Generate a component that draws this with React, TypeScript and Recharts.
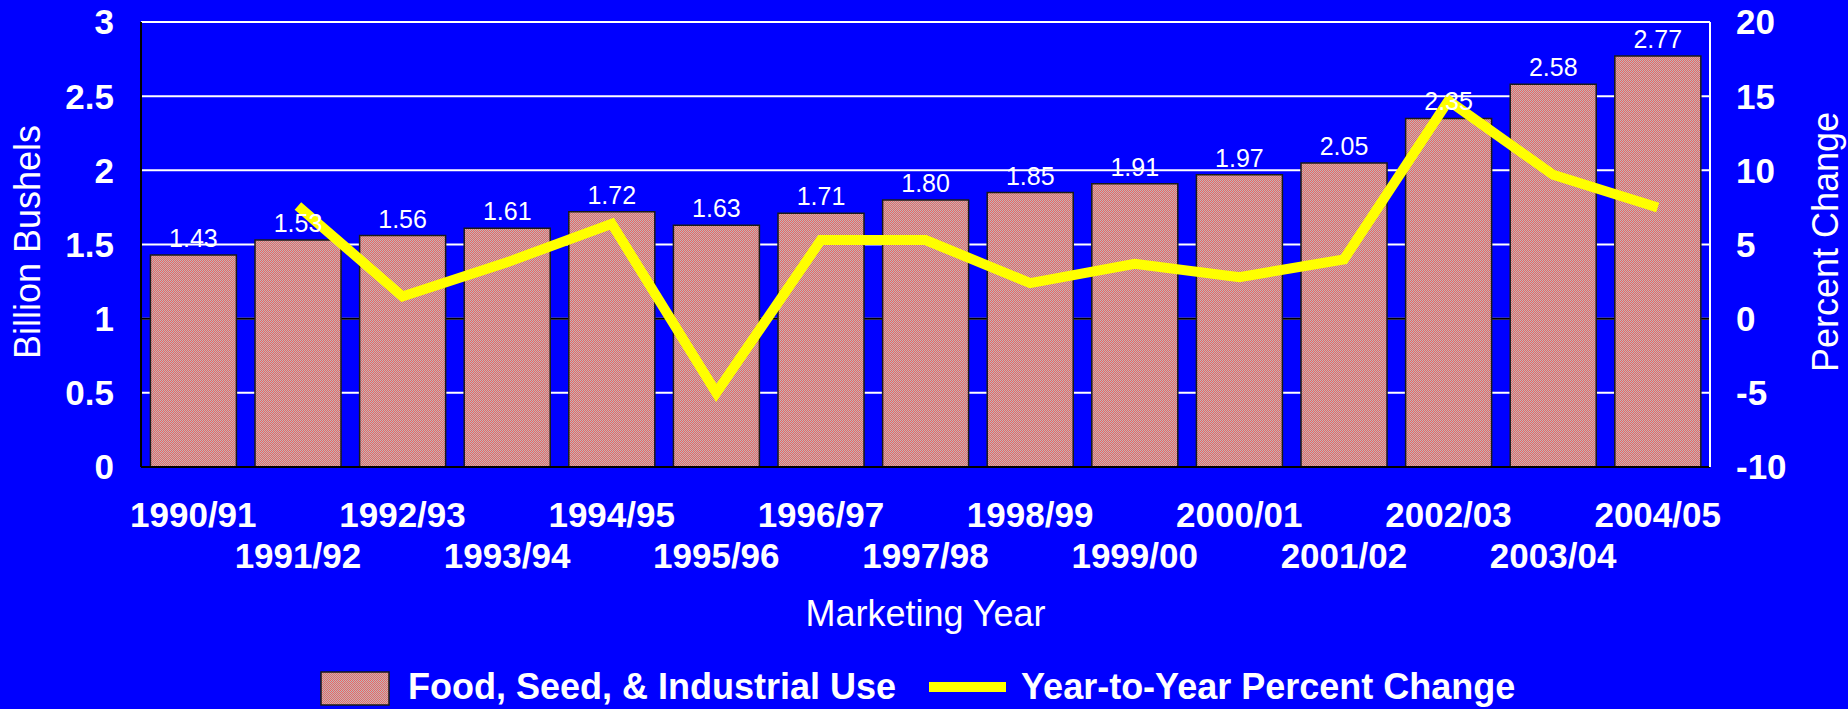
import React from 'react';
import {
  ComposedChart,
  Bar,
  Line,
  XAxis,
  YAxis,
  CartesianGrid,
  Legend,
  LabelList,
} from 'recharts';

const categories = [
  '1990/91', '1991/92', '1992/93', '1993/94', '1994/95', '1995/96', '1996/97', '1997/98',
  '1998/99', '1999/00', '2000/01', '2001/02', '2002/03', '2003/04', '2004/05',
];
const fsiUse = [1.43, 1.53, 1.56, 1.61, 1.72, 1.63, 1.71, 1.8, 1.85, 1.91, 1.97, 2.05, 2.35, 2.58, 2.77];
const pctChange: (number | null)[] = [null, 7.6, 1.5, 3.8, 6.4, -5.0, 5.3, 5.3, 2.4, 3.7, 2.8, 4.0, 14.7, 9.7, 7.5];
const leftTicks = [0, 0.5, 1, 1.5, 2, 2.5, 3];
const rightTicks = [-10, -5, 0, 5, 10, 15, 20];

const BAR_NAME = 'Food, Seed, & Industrial Use';
const LINE_NAME = 'Year-to-Year Percent Change';

const data = categories.map((c, i) => ({ year: c, fsi: fsiUse[i], pct: pctChange[i] }));

const FONT = '"Liberation Sans", Arial, Helvetica, sans-serif';
const BLUE = '#0000FF';

const XTick = (props: any) => {
  const { x, y, payload } = props;
  const idx = payload?.index ?? props.index ?? 0;
  return (
    <text
      x={x}
      y={y + (idx % 2 === 0 ? 60 : 101)}
      textAnchor="middle"
      fill="#fff"
      fontSize={35}
      fontWeight="bold"
      fontFamily={FONT}
    >
      {payload.value}
    </text>
  );
};

const XLabel = (props: any) => {
  const vb = props.viewBox || {};
  return (
    <text
      x={vb.x + vb.width / 2}
      y={vb.y + 159}
      textAnchor="middle"
      fill="#fff"
      fontSize={36}
      fontFamily={FONT}
    >
      Marketing Year
    </text>
  );
};

const makeYLabel = (text: string, dxFromLeft: number) => (props: any) => {
  const vb = props.viewBox || {};
  const cx = vb.x + dxFromLeft;
  const cy = 242;
  return (
    <text
      x={cx}
      y={cy}
      dy={13}
      transform={`rotate(-90, ${cx}, ${cy})`}
      textAnchor="middle"
      fill="#fff"
      fontSize={36}
      fontFamily={FONT}
    >
      {text}
    </text>
  );
};

const LegendContent = (props: any) => {
  const payload = props.payload || [];
  return (
    <div
      style={{
        height: 44,
        display: 'flex',
        alignItems: 'center',
        paddingLeft: 320,
        fontFamily: FONT,
        fontWeight: 'bold',
        fontSize: 36,
        color: '#fff',
        whiteSpace: 'nowrap',
      }}
    >
      {payload.map((entry: any, i: number) => {
        const isLine = entry.type === 'line' || entry.dataKey === 'pct';
        return (
          <div key={i} style={{ display: 'flex', alignItems: 'center', marginRight: i === 0 ? 33 : 0 }}>
            {isLine ? (
              <svg width={77} height={20} style={{ marginRight: 15 }}>
                <rect x={0} y={5} width={77} height={10} fill="#FFFF00" />
              </svg>
            ) : (
              <svg width={70} height={36} style={{ marginRight: 18, marginTop: 4 }}>
                <rect x={1} y={1} width={68} height={33} fill="url(#hatch)" stroke="#1a1a1a" strokeWidth={1.5} />
              </svg>
            )}
            <span>{entry.value}</span>
          </div>
        );
      })}
    </div>
  );
};

export default function App() {
  return (
    <div style={{ position: 'absolute', left: 0, top: 0, width: 1848, height: 709, background: BLUE }}>
      <ComposedChart
        width={1848}
        height={709}
        data={data}
        margin={{ top: 22, right: 0, bottom: 0, left: 0 }}
        barCategoryGap="9%"
        style={{ background: BLUE }}
      >
        <defs>
          <pattern id="hatch" patternUnits="userSpaceOnUse" width={2} height={2}>
            <rect x={0} y={0} width={2} height={2} fill="#EE6262" />
            <rect x={0} y={0} width={1} height={1} fill="#BABABA" />
            <rect x={1} y={1} width={1} height={1} fill="#BABABA" />
          </pattern>
        </defs>
        <CartesianGrid yAxisId="left" vertical={false} stroke="#fff" strokeWidth={2} fill={BLUE} />
        <CartesianGrid yAxisId="left" vertical={false} stroke="#000" strokeWidth={2} horizontalValues={[1]} />
        <XAxis
          dataKey="year"
          interval={0}
          height={198}
          tickSize={0}
          tickMargin={0}
          tickLine={false}
          axisLine={{ stroke: '#000', strokeWidth: 2 }}
          tick={<XTick />}
          label={XLabel}
        />
        <YAxis
          yAxisId="left"
          orientation="left"
          width={141}
          domain={[0, 3]}
          ticks={leftTicks}
          interval={0}
          tickLine={false}
          tickSize={0}
          tickMargin={27}
          axisLine={{ stroke: '#000', strokeWidth: 2 }}
          tick={{ fill: '#fff', fontSize: 35, fontWeight: 'bold', fontFamily: FONT }}
          label={makeYLabel('Billion Bushels', 27)}
        />
        <YAxis
          yAxisId="right"
          orientation="right"
          width={138}
          domain={[-10, 20]}
          ticks={rightTicks}
          interval={0}
          tickLine={false}
          tickSize={0}
          tickMargin={26}
          axisLine={{ stroke: '#fff', strokeWidth: 2 }}
          tick={{ fill: '#fff', fontSize: 35, fontWeight: 'bold', fontFamily: FONT }}
          label={makeYLabel('Percent Change', 115)}
        />
        <Legend verticalAlign="bottom" align="left" content={<LegendContent />} />
        <Bar
          yAxisId="left"
          dataKey="fsi"
          name={BAR_NAME}
          fill="url(#hatch)"
          stroke="#1a1a1a"
          strokeWidth={1.5}
          isAnimationActive={false}
        >
          <LabelList
            dataKey="fsi"
            position="top"
            offset={8}
            fill="#fff"
            fontSize={25}
            fontFamily={FONT}
            formatter={(v: any) => Number(v).toFixed(2)}
          />
        </Bar>
        <Line
          yAxisId="right"
          dataKey="pct"
          name={LINE_NAME}
          type="linear"
          stroke="#FFFF00"
          strokeWidth={10}
          dot={false}
          activeDot={false}
          isAnimationActive={false}
          legendType="line"
        />
      </ComposedChart>
    </div>
  );
}
